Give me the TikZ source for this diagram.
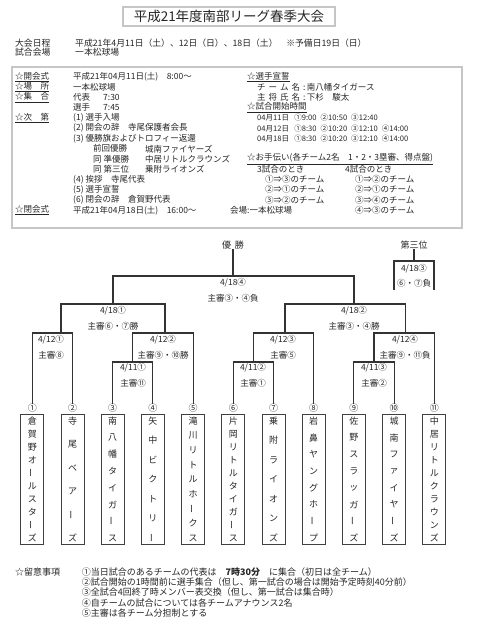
\documentclass[tikz,border=0pt]{standalone}
\usepackage{fontspec}
\setmainfont{Noto Sans CJK JP}
\newcommand\vb{\rotatebox{90}{ー}}
\newcommand\fsA{\fontsize{8.5}{10}\selectfont}
\newcommand\fsB{\fontsize{9}{10}\selectfont}
\newcommand\fsC{\fontsize{7.6}{9}\selectfont}
\newcommand\fsT{\fontsize{13.5}{15}\selectfont}
\tikzset{
 txt/.style={anchor=west, inner sep=0pt, font=\fsA, text=black!85},
 lab/.style={inner sep=0pt, font=\fsA, text=black!85},
 frame/.style={draw=black!75, line width=0.5pt, double=gray!45, double distance=1.2pt},
 bline/.style={draw=black!80, line width=1.1pt},
 teambox/.style={draw=black!75, line width=0.7pt, minimum width=23pt, minimum height=130pt, inner sep=0pt},
 chartxt/.style={inner sep=0pt, font=\fsB, text=black!85},
 numtxt/.style={inner sep=0pt, font=\fsB, text=black!85},
}
\newcommand\team[5]{%
 \node[teambox] (T#1) at (#2,479) {};
 \node[numtxt] (N#1) at (#2,408) {#3};
 \foreach \c [count=\k from 0] in {#5} {
   \node[chartxt] (T#1c\k) at (#2,{421+\k*117/(#4-1)}) {\c};
 }
}
\begin{document}
\begin{tikzpicture}[x=1pt,y=-1pt]
\useasboundingbox[fill=white] (0,0) rectangle (493,630);
% title
\draw[frame] (123,7) rectangle (335,26);
\node[lab, font=\fsT] (title) at (229,16.5) {平成21年度南部リーグ春季大会};
\node[txt, font=\fontsize{8.8}{10}\selectfont] (h1) at (15,42.7) {大会日程};
\node[txt, font=\fontsize{8.8}{10}\selectfont] (h1v) at (75,42.7) {平成21年4月11日（土）、12日（日）、18日（土）　※予備日19日（日）};
\node[txt, font=\fontsize{8.8}{10}\selectfont] (h2) at (15,52.3) {試合会場};
\node[txt, font=\fontsize{8.8}{10}\selectfont] (h2v) at (75,52.3) {一本松球場};
% info box
\draw[frame] (12,67) rectangle (462,228);
% left column
\node[txt] (l0) at (15,77) {\underline{☆開会式}};
\node[txt] (l0v) at (73,77) {平成21年04月11日(土)　8:00～};
\node[txt] (l1) at (15,87.25) {\underline{☆場　所}};
\node[txt] (l1v) at (73,87.25) {一本松球場};
\node[txt] (l2) at (15,97.5) {\underline{☆集　合}};
\node[txt] (l2v) at (73,97.5) {代表};
\node[txt] (l2t) at (103,97.5) {7:30};
\node[txt] (l3v) at (73,107.75) {選手};
\node[txt] (l3t) at (103,107.75) {7:45};
\node[txt] (l4) at (15,118) {\underline{☆次　第}};
\node[txt] (l4v) at (73,118) {(1) 選手入場};
\node[txt] (l5v) at (73,128.25) {(2) 開会の辞　寺尾保護者会長};
\node[txt] (l6v) at (73,138.5) {(3) 優勝旗およびトロフィー返還};
\node[txt] (l7a) at (93,148.75) {前回優勝};
\node[txt] (l7b) at (145,148.75) {城南ファイヤーズ};
\node[txt] (l8a) at (93,159) {同 準優勝};
\node[txt] (l8b) at (145,159) {中居リトルクラウンズ};
\node[txt] (l9a) at (93,169.25) {同 第三位};
\node[txt] (l9b) at (145,169.25) {乗附ライオンズ};
\node[txt] (l10v) at (73,179.5) {(4) 挨拶　寺尾代表};
\node[txt] (l11v) at (73,189.75) {(5) 選手宣誓};
\node[txt] (l12v) at (73,200) {(6) 閉会の辞　倉賀野代表};
\node[txt] (l13) at (15,210.25) {\underline{☆閉会式}};
\node[txt] (l13v) at (73,210.25) {平成21年04月18日(土)　16:00～};
\node[txt] (l13w) at (230,210.25) {会場:一本松球場};
% right column
\node[txt] (r0) at (247,77) {\underline{☆選手宣誓}};
\node[txt] (r1) at (257,87.25) {チ\hspace{3pt}ー\hspace{3pt}ム\hspace{3pt}名};
\node[txt] (r1v) at (303,87.25) {:\,南八幡タイガース};
\node[txt] (r2) at (257,97.5) {主\hspace{3pt}将\hspace{3pt}氏\hspace{3pt}名};
\node[txt] (r2v) at (303,97.5) {:\,下杉　駿太};
\node[txt] (r3) at (247,107.75) {\underline{☆試合開始時間}};
\node[txt, font=\fsC] (r4) at (257,118) {04月11日\hspace{5pt}①9:00\hspace{4pt}②10:50\hspace{4pt}③12:40};
\node[txt, font=\fsC] (r5) at (257,128.25) {04月12日\hspace{5pt}①8:30\hspace{4pt}②10:20\hspace{4pt}③12:10\hspace{4pt}④14:00};
\node[txt, font=\fsC] (r6) at (257,138.5) {04月18日\hspace{5pt}①8:30\hspace{4pt}②10:20\hspace{4pt}③12:10\hspace{4pt}④14:00};
\node[txt] (r8) at (247,159) {\underline{☆お手伝い(各チーム2名　1・2・3塁審、得点盤)}};
\node[txt] (r9a) at (257,169.25) {3試合のとき};
\node[txt] (r9b) at (345,169.25) {4試合のとき};
\node[txt] (r10a) at (265,179.5) {①⇒③のチーム};
\node[txt] (r10b) at (355,179.5) {①⇒②のチーム};
\node[txt] (r11a) at (265,189.75) {②⇒①のチーム};
\node[txt] (r11b) at (355,189.75) {②⇒①のチーム};
\node[txt] (r12a) at (265,200) {③⇒②のチーム};
\node[txt] (r12b) at (355,200) {③⇒④のチーム};
\node[txt] (r13b) at (355,210.25) {④⇒③のチーム};
% teams
\team{1}{32.3}{①}{10}{倉,賀,野,オ,\vb,ル,ス,タ,\vb,ズ}
\team{2}{72.5}{②}{6}{寺,尾,ベ,ア,\vb,ズ}
\team{3}{112.7}{③}{8}{南,八,幡,タ,イ,ガ,\vb,ス}
\team{4}{152.9}{④}{7}{矢,中,ビ,ク,ト,リ,\vb}
\team{5}{193.1}{⑤}{9}{滝,川,リ,ト,ル,ホ,\vb,ク,ス}
\team{6}{233.3}{⑥}{10}{片,岡,リ,ト,ル,タ,イ,ガ,\vb,ス}
\team{7}{273.5}{⑦}{7}{乗,附,ラ,イ,オ,ン,ズ}
\team{8}{313.7}{⑧}{8}{岩,鼻,ヤ,ン,グ,ホ,\vb,プ}
\team{9}{353.9}{⑨}{8}{佐,野,ス,ラ,ッ,ガ,\vb,ズ}
\team{10}{394.1}{⑩}{8}{城,南,フ,ァ,イ,ヤ,\vb,ズ}
\team{11}{434.3}{⑪}{10}{中,居,リ,ト,ル,ク,ラ,ウ,ン,ズ}
% bracket coordinates
\coordinate (m1) at (132.8,362);
\coordinate (m3) at (253.4,362);
\coordinate (m5) at (374,362);
\coordinate (m0) at (61,333);
\coordinate (m2) at (165,333);
\coordinate (m4) at (285,333);
\coordinate (m6) at (405.7,333);
\coordinate (s1) at (113,304);
\coordinate (s2) at (354,304);
\coordinate (f) at (233,276);
\node[lab, font=\fsB] (win) at (233,245) {優\hspace{4pt}勝};
\node[lab, font=\fsB] (third) at (414,245) {第三位};
\coordinate (t1) at (414,261);
\coordinate (tl) at (394,290);
\coordinate (tr) at (434,290);
% bracket lines
\draw[bline] (N3.north) |- (m1) -| (N4.north);
\draw[bline] (N6.north) |- (m3) -| (N7.north);
\draw[bline] (N9.north) |- (m5) -| (N10.north);
\draw[bline] (N1.north) |- (m0) -| (N2.north);
\draw[bline] (m1) |- (m2) -| (N5.north);
\draw[bline] (m3) |- (m4) -| (N8.north);
\draw[bline] (m5) |- (m6) -| (N11.north);
\draw[bline] (m0) |- (s1) -| (m2);
\draw[bline] (m4) |- (s2) -| (m6);
\draw[bline] (s1) |- (f) -| (s2);
\draw[bline] (f) -- (win.south);
\draw[bline] (third.south) -- (t1);
\draw[bline] (tl) |- (t1) -| (tr);
% bracket labels
\node[lab] (g18d) at (233,283) {4/18④};
\node[lab] (g18dr) at (233,298) {主審③・④負};
\node[lab] (g18a) at (113,311) {4/18①};
\node[lab] (g18ar) at (113,326) {主審⑥・⑦勝};
\node[lab] (g18b) at (354,311) {4/18②};
\node[lab] (g18br) at (354,326) {主審③・④勝};
\node[lab] (g12a) at (51,340) {4/12①};
\node[lab] (g12ar) at (51,355) {主審⑧};
\node[lab] (g12b) at (163,340) {4/12②};
\node[lab] (g12br) at (163,355) {主審⑨・⑩勝};
\node[lab] (g12c) at (283,340) {4/12③};
\node[lab] (g12cr) at (283,355) {主審⑤};
\node[lab] (g12d) at (405,340) {4/12④};
\node[lab] (g12dr) at (405,355) {主審⑨・⑪負};
\node[lab] (g11a) at (133,368) {4/11①};
\node[lab] (g11ar) at (133,383) {主審⑪};
\node[lab] (g11b) at (253,368) {4/11②};
\node[lab] (g11br) at (253,383) {主審①};
\node[lab] (g11c) at (374,368) {4/11③};
\node[lab] (g11cr) at (374,383) {主審②};
\node[lab] (g18c) at (414,268.7) {4/18③};
\node[lab] (g18cr) at (414,283) {⑥・⑦負};
% footer
\node[txt, font=\fsB] (ft) at (15,571.7) {☆留意事項};
\node[txt, font=\fsB] (f1) at (81.7,571.7) {①当日試合のあるチームの代表は　\textbf{7時30分}　に集合（初日は全チーム）};
\node[txt, font=\fsB] (f2) at (81.7,582) {②試合開始の1時間前に選手集合（但し、第一試合の場合は開始予定時刻40分前）};
\node[txt, font=\fsB] (f3) at (81.7,592.3) {③全試合4回終了時メンバー表交換（但し、第一試合は集合時）};
\node[txt, font=\fsB] (f4) at (81.7,602.6) {④自チームの試合については各チームアナウンス2名};
\node[txt, font=\fsB] (f5) at (81.7,612.9) {⑤主審は各チーム分担制とする};
\end{tikzpicture}
\end{document}
